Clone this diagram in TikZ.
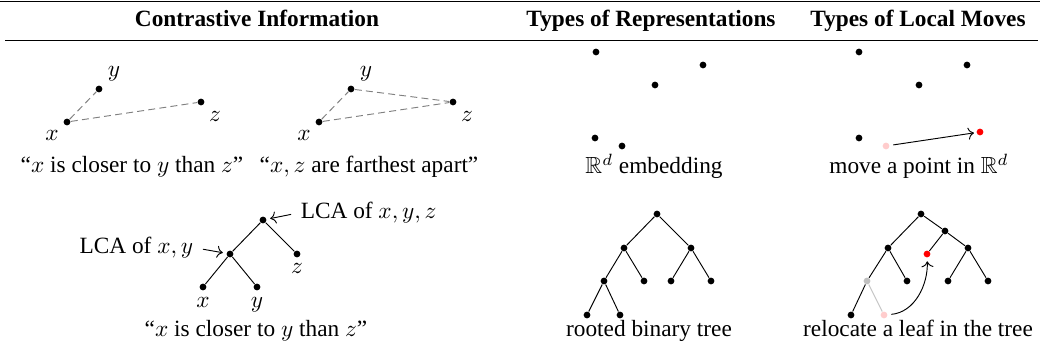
\documentclass[tikz,border=0pt]{standalone}
\usepackage{amsmath,amssymb}
\usepackage{fontspec}
\setmainfont{Liberation Serif}
\usetikzlibrary{arrows.meta,positioning}

\begin{document}
\begin{tikzpicture}[
  x=0.429pt, y=-0.429pt, >=To, font=\normalsize,
  dot/.style={circle, fill, inner sep=0pt, minimum size=2.9pt},
  lbl/.style={inner sep=1pt},
  captxt/.style={anchor=base, inner sep=0pt},
  headtxt/.style={anchor=base, inner sep=0pt, font=\bfseries},
  link/.style={gray, dash pattern=on 3pt off 1.8pt},
  ghost/.style={dot, fill=red!20},
  moved/.style={dot, fill=red}
]
\useasboundingbox (0,0) rectangle (1040,356);

% table rules
\draw[line width=0.8pt] (0,1.5) -- (1040,1.5);
\draw[line width=0.5pt] (5,40.5) -- (1038,40.5);

\node[headtxt] (hc) at (257,27) {Contrastive Information};
\node[headtxt] (hr) at (651,27) {Types of Representations};
\node[headtxt] (hm) at (918,27) {Types of Local Moves};

% contrastive: triplet
\node[dot] (x1) at (67,122) {};
\node[dot] (y1) at (99,89) {};
\node[dot] (z1) at (201,102) {};
\node[lbl] (x1l) at (52,135) {$x$};
\node[lbl] (y1l) at (114,74) {$y$};
\node[lbl] (z1l) at (215,116) {$z$};
\draw[link] (x1) -- (y1);
\draw[link] (x1) -- (z1);
\node[captxt] (c1) at (132,173) {``$x$ is closer to $y$ than $z$''};

% contrastive: farthest pair
\node[dot] (x2) at (319,122) {};
\node[dot] (y2) at (351,89) {};
\node[dot] (z2) at (453,102) {};
\node[lbl] (x2l) at (304,135) {$x$};
\node[lbl] (y2l) at (366,74) {$y$};
\node[lbl] (z2l) at (467,116) {$z$};
\draw[link] (x2) -- (y2);
\draw[link] (y2) -- (z2);
\draw[link] (x2) -- (z2);
\node[captxt] (c2) at (369,173) {``$x,z$ are farthest apart''};

% R^d embedding
\node[dot] (r1) at (596,52) {};
\node[dot] (r2) at (703,65) {};
\node[dot] (r3) at (655,85) {};
\node[dot] (r4) at (595,138) {};
\node[dot] (r5) at (622,146) {};
\node[captxt] (c3) at (654,174) {$\mathbb{R}^d$ embedding};

% move a point
\node[dot] (m1) at (859,52) {};
\node[dot] (m2) at (967,65) {};
\node[dot] (m3) at (919,85) {};
\node[dot] (m4) at (859,138) {};
\node[ghost] (mp) at (886,146) {};
\node[moved] (mr) at (980,132) {};
\draw[->, shorten <=1.5pt, shorten >=1pt] (mp) -- (mr);
\node[captxt] (c4) at (919,174) {move a point in $\mathbb{R}^d$};

% LCA tree
\node[dot] (t1r) at (263,220) {};
\node[dot] (t1a) at (230,254) {};
\node[dot] (t1z) at (297,254) {};
\node[dot] (t1x) at (203,287) {};
\node[dot] (t1y) at (257,287) {};
\draw (t1r) -- (t1a);
\draw (t1r) -- (t1z);
\draw (t1a) -- (t1x);
\draw (t1a) -- (t1y);
\node[lbl, below=1pt of t1z] (t1zl) {$z$};
\node[lbl, below=1.5pt of t1x] (t1xl) {$x$};
\node[lbl, below=1.5pt of t1y] (t1yl) {$y$};
\node[lbl, anchor=west] (lcaxyz) at (298,213) {LCA of $x,y,z$};
\node[lbl, anchor=east] (lcaxy) at (196,248) {LCA of $x,y$};
\draw[->, shorten <=3pt, shorten >=1.5pt] (lcaxyz.west) -- (t1r);
\draw[->, shorten <=3pt, shorten >=1.5pt] (lcaxy.east) -- (t1a);
\node[captxt] (c5) at (256,337) {``$x$ is closer to $y$ than $z$''};

% rooted binary tree
\node[dot] (b0) at (657,214) {};
\node[dot] (bl) at (624,248) {};
\node[dot] (br) at (691,248) {};
\node[dot] (bll) at (604,281) {};
\node[dot] (blr) at (644,281) {};
\node[dot] (brl) at (671,281) {};
\node[dot] (brr) at (711,281) {};
\node[dot] (blll) at (587,315) {};
\node[dot] (bllr) at (620,315) {};
\draw (b0) -- (bl);
\draw (b0) -- (br);
\draw (bl) -- (bll);
\draw (bl) -- (blr);
\draw (br) -- (brl);
\draw (br) -- (brr);
\draw (bll) -- (blll);
\draw (bll) -- (bllr);
\node[captxt] (c6) at (649,337) {rooted binary tree};

% relocate a leaf
\node[dot] (e0) at (921,214) {};
\node[dot] (en) at (945,231) {};
\node[dot] (el) at (888,248) {};
\node[dot] (er) at (968,248) {};
\node[moved] (enew) at (927,254) {};
\node[dot, fill=gray!50] (ell) at (867,281) {};
\node[dot] (elr) at (907,281) {};
\node[dot] (erl) at (948,281) {};
\node[dot] (err) at (988,281) {};
\node[dot] (elll) at (851,315) {};
\node[ghost] (eold) at (884,315) {};
\draw (e0) -- (el);
\draw (e0) -- (en);
\draw (en) -- (er);
\draw (en) -- (enew);
\draw (el) -- (ell);
\draw (el) -- (elr);
\draw (er) -- (erl);
\draw (er) -- (err);
\draw (ell) -- (elll);
\draw[gray!45] (ell) -- (eold);
\draw[->, shorten <=1.5pt, shorten >=1.5pt] (eold) to[out=5, in=-88] (enew);
\node[captxt] (c7) at (918,337) {relocate a leaf in the tree};
\end{tikzpicture}
\end{document}
